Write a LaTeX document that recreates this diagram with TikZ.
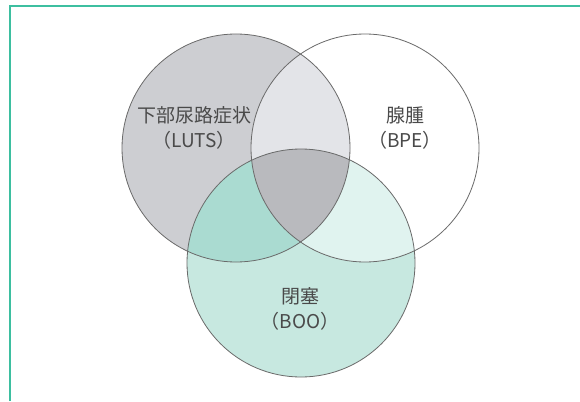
\documentclass[tikz,border=0pt]{standalone}
\usepackage{fontspec}
\newfontfamily\jpfont{Noto Sans CJK JP}
\definecolor{frameteal}{HTML}{3DBFA0}
\definecolor{lutsgray}{HTML}{CDCED2}
\definecolor{booteal}{HTML}{C7E8E0}
\definecolor{lutsbpe}{HTML}{E3E4E8}
\definecolor{lutsboo}{HTML}{AADBD1}
\definecolor{bpeboo}{HTML}{E0F3EF}
\definecolor{allthree}{HTML}{B9BABE}
\definecolor{edgegray}{HTML}{6A6A6A}
\definecolor{txtgray}{HTML}{4A4A4A}
\tikzset{
  ring/.style={draw=edgegray, line width=0.8pt},
  lbl/.style={font=\jpfont\fontsize{19}{23}\selectfont, text=txtgray, align=center, inner sep=0pt},
  frameline/.style={draw=frameteal, line width=2pt}
}
\begin{document}
\begin{tikzpicture}[x=1pt,y=-1pt]
\useasboundingbox (0,0) rectangle (580,401);
\fill[white] (0,0) rectangle (580,401);
\def\R{114}
\coordinate (L) at (236,148);
\coordinate (B) at (365,148);
\coordinate (O) at (301,263);
% base fills
\fill[lutsgray] (L) circle (\R);
\fill[booteal] (O) circle (\R);
\begin{scope}
  \clip (L) circle (\R);
  \fill[lutsbpe] (B) circle (\R);
\end{scope}
\begin{scope}
  \clip (L) circle (\R);
  \fill[lutsboo] (O) circle (\R);
\end{scope}
\begin{scope}
  \clip (B) circle (\R);
  \fill[bpeboo] (O) circle (\R);
\end{scope}
\begin{scope}
  \clip (L) circle (\R);
  \clip (B) circle (\R);
  \fill[allthree] (O) circle (\R);
\end{scope}
% outlines
\draw[ring] (L) circle (\R);
\draw[ring] (B) circle (\R);
\draw[ring] (O) circle (\R);
% labels
\node[lbl] (luts) at (194,128) {下部尿路症状\\[2pt]（LUTS）};
\node[lbl] (bpe) at (405,128) {腺腫\\[2pt]（BPE）};
\node[lbl] (boo) at (300,309) {閉塞\\[2pt]（BOO）};
% frame
\coordinate (fa) at (10,401);
\coordinate (fb) at (10,6);
\coordinate (fc) at (580,6);
\draw[frameline] (fa) -- (fb) -- (fc);
\end{tikzpicture}
\end{document}
